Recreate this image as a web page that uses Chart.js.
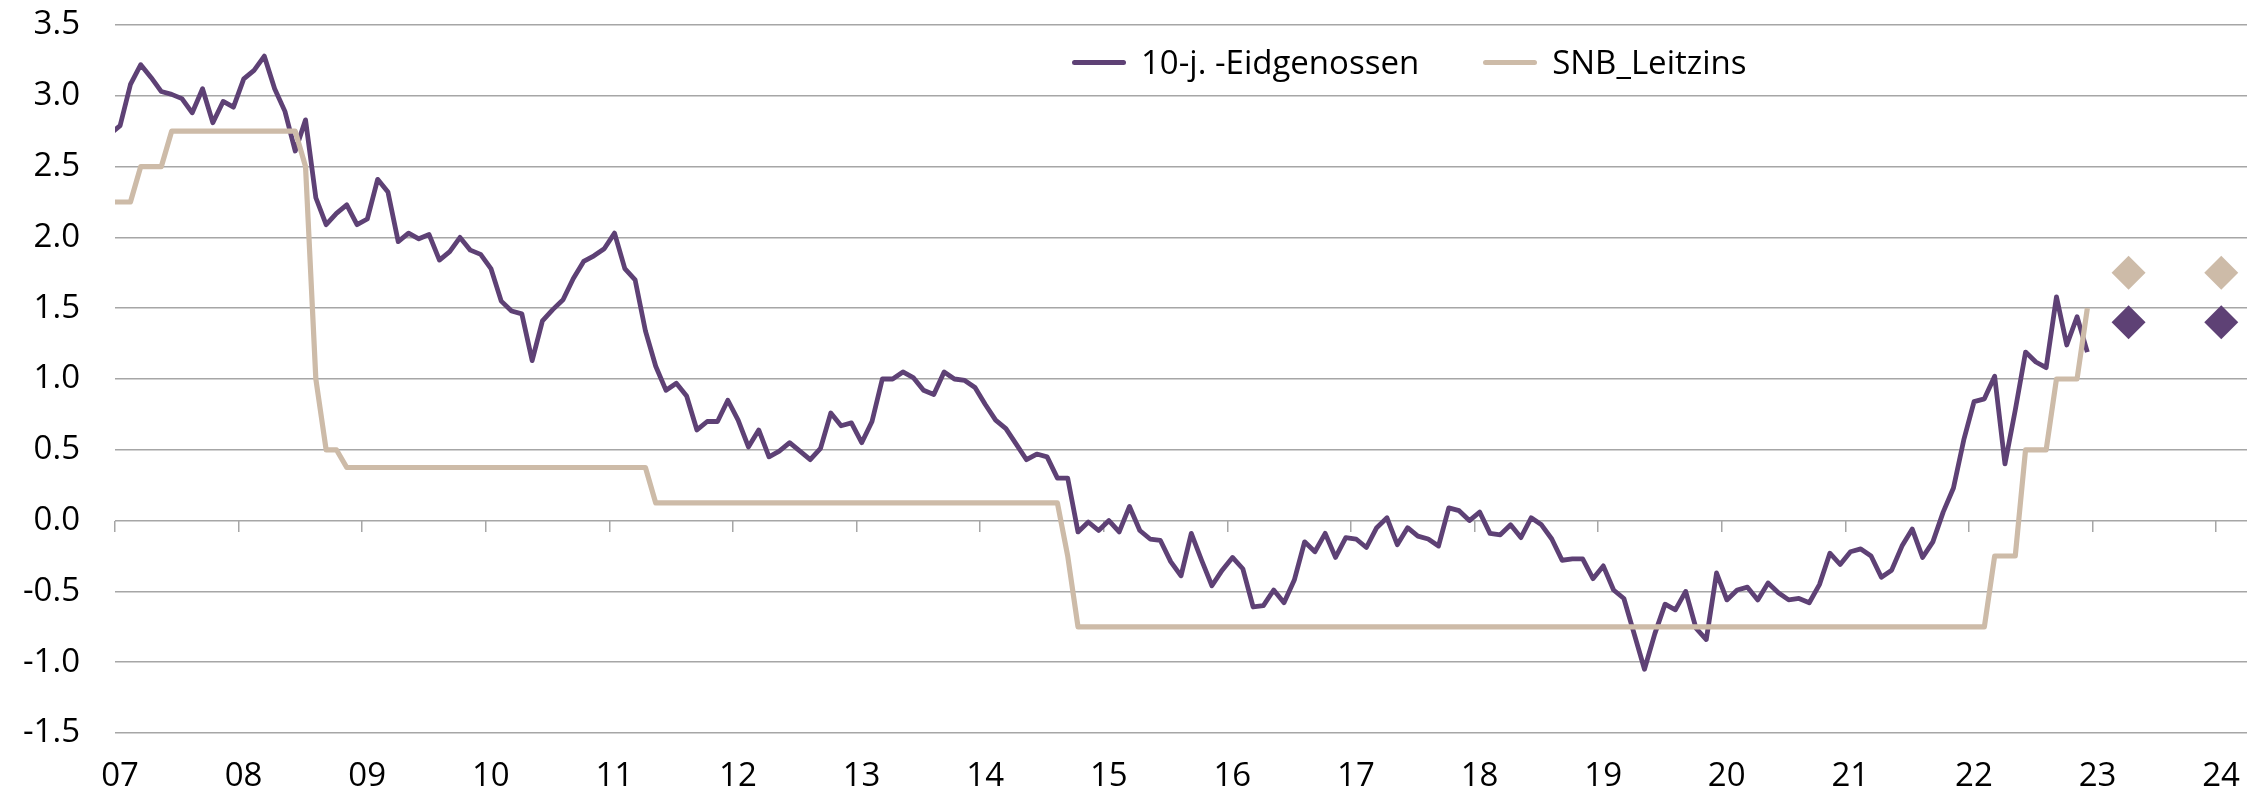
<!DOCTYPE html>
<html>
<head>
<meta charset="utf-8">
<script src="https://cdn.jsdelivr.net/npm/chart.js@4.4.1/dist/chart.umd.min.js"></script>
<style>
  body { margin: 0; background: #fff; }
  .wrap { position: relative; width: 2264px; height: 796px; }
  #legend { position: absolute; left: 1072px; top: 42px; height: 40px; display: flex; align-items: center;
            font-family: "Open Sans", sans-serif; font-size: 33px; color: #000; }
  #legend .item { display: flex; align-items: center; margin-right: 64px; line-height: 40px; white-space: nowrap; }
  #legend .swatch { width: 54px; height: 5px; border-radius: 3px; margin-right: 15px; }
</style>
</head>
<body>
<div class="wrap">
  <canvas id="chart" width="2264" height="796"></canvas>
  <div id="legend"></div>
</div>
<script>
// Monatswerte ab Dez. 2006 bis Dez. 2022
const firstMonth = "2006-12";
const yearLabels = ["07", "08", "09", "10", "11", "12", "13", "14", "15", "16", "17", "18", "19", "20", "21", "22", "23", "24"];

const yield10y = [
  2.73,
  2.79, 3.08, 3.22, 3.13, 3.03, 3.01, 2.98, 2.88, 3.05, 2.81, 2.96, 2.92,
  3.12, 3.18, 3.28, 3.05, 2.89, 2.61, 2.83, 2.28, 2.09, 2.17, 2.23, 2.09,
  2.13, 2.41, 2.32, 1.97, 2.03, 1.99, 2.02, 1.84, 1.90, 2.00, 1.91, 1.88,
  1.78, 1.55, 1.48, 1.46, 1.13, 1.41, 1.49, 1.56, 1.71, 1.83, 1.87, 1.92,
  2.03, 1.78, 1.70, 1.34, 1.09, 0.92, 0.97, 0.88, 0.64, 0.70, 0.70, 0.85,
  0.71, 0.52, 0.64, 0.45, 0.49, 0.55, 0.49, 0.43, 0.51, 0.76, 0.67, 0.69,
  0.55, 0.70, 1.00, 1.00, 1.05, 1.01, 0.92, 0.89, 1.05, 1.00, 0.99, 0.94,
  0.82, 0.71, 0.65, 0.54, 0.43, 0.47, 0.45, 0.30, 0.30, -0.08, -0.01, -0.07,
  0.00, -0.08, 0.10, -0.07, -0.13, -0.14, -0.29, -0.39, -0.09, -0.28, -0.46, -0.35,
  -0.26, -0.34, -0.61, -0.60, -0.49, -0.58, -0.42, -0.15, -0.22, -0.09, -0.26, -0.12,
  -0.13, -0.19, -0.05, 0.02, -0.17, -0.05, -0.11, -0.13, -0.18, 0.09, 0.07, 0.00,
  0.06, -0.09, -0.10, -0.03, -0.12, 0.02, -0.03, -0.13, -0.28, -0.27, -0.27, -0.41,
  -0.32, -0.49, -0.55, -0.80, -1.05, -0.80, -0.59, -0.63, -0.50, -0.76, -0.84, -0.37,
  -0.56, -0.49, -0.47, -0.56, -0.44, -0.51, -0.56, -0.55, -0.58, -0.45, -0.23, -0.31,
  -0.22, -0.20, -0.25, -0.40, -0.35, -0.18, -0.06, -0.26, -0.15, 0.06, 0.23, 0.57,
  0.84, 0.86, 1.02, 0.40, 0.78, 1.19, 1.12, 1.08, 1.58, 1.24, 1.44, 1.19
];

const snbRate = [
  2.25,
  2.25, 2.25, 2.5, 2.5, 2.5, 2.75, 2.75, 2.75, 2.75, 2.75, 2.75, 2.75,
  2.75, 2.75, 2.75, 2.75, 2.75, 2.75, 2.5, 1.0, 0.5, 0.5, 0.375, 0.375,
  0.375, 0.375, 0.375, 0.375, 0.375, 0.375, 0.375, 0.375, 0.375, 0.375, 0.375, 0.375,
  0.375, 0.375, 0.375, 0.375, 0.375, 0.375, 0.375, 0.375, 0.375, 0.375, 0.375, 0.375,
  0.375, 0.375, 0.375, 0.375, 0.125, 0.125, 0.125, 0.125, 0.125, 0.125, 0.125, 0.125,
  0.125, 0.125, 0.125, 0.125, 0.125, 0.125, 0.125, 0.125, 0.125, 0.125, 0.125, 0.125,
  0.125, 0.125, 0.125, 0.125, 0.125, 0.125, 0.125, 0.125, 0.125, 0.125, 0.125, 0.125,
  0.125, 0.125, 0.125, 0.125, 0.125, 0.125, 0.125, 0.125, -0.25, -0.75, -0.75, -0.75,
  -0.75, -0.75, -0.75, -0.75, -0.75, -0.75, -0.75, -0.75, -0.75, -0.75, -0.75, -0.75,
  -0.75, -0.75, -0.75, -0.75, -0.75, -0.75, -0.75, -0.75, -0.75, -0.75, -0.75, -0.75,
  -0.75, -0.75, -0.75, -0.75, -0.75, -0.75, -0.75, -0.75, -0.75, -0.75, -0.75, -0.75,
  -0.75, -0.75, -0.75, -0.75, -0.75, -0.75, -0.75, -0.75, -0.75, -0.75, -0.75, -0.75,
  -0.75, -0.75, -0.75, -0.75, -0.75, -0.75, -0.75, -0.75, -0.75, -0.75, -0.75, -0.75,
  -0.75, -0.75, -0.75, -0.75, -0.75, -0.75, -0.75, -0.75, -0.75, -0.75, -0.75, -0.75,
  -0.75, -0.75, -0.75, -0.75, -0.75, -0.75, -0.75, -0.75, -0.75, -0.75, -0.75, -0.75,
  -0.75, -0.75, -0.25, -0.25, -0.25, 0.5, 0.5, 0.5, 1.0, 1.0, 1.0, 1.5
];

// Prognosen (Rauten)
const forecastMonths = ["2023-04", "2024-01"];
const forecastYield = [1.4, 1.4];
const forecastSnb = [1.75, 1.75];

const purple = "#5e4175";
const beige = "#cdbba8";
const gridGray = "#a6a6a6";
const FONT = { family: "'Open Sans', sans-serif", size: 33 };

// Monat -> Position auf der x-Achse (Monate seit Jan 2007, Monatsmitte)
function monthPos(str) {
  const [y, m] = str.split("-").map(Number);
  return (y - 2007) * 12 + (m - 1) + 0.5;
}
const startPos = monthPos(firstMonth);
const yearTicks = yearLabels.map((_, i) => i * 12);

const toPoints = (arr) => arr.map((v, i) => ({ x: startPos + i, y: v }));
const toForecast = (arr) => arr.map((v, i) => ({ x: monthPos(forecastMonths[i]), y: v }));

const htmlLegend = {
  id: "htmlLegend",
  afterUpdate(chart) {
    const box = document.getElementById("legend");
    box.innerHTML = "";
    chart.data.datasets.forEach((ds) => {
      if (!ds.inLegend) return;
      const item = document.createElement("div");
      item.className = "item";
      const sw = document.createElement("span");
      sw.className = "swatch";
      sw.style.background = ds.borderColor;
      const txt = document.createElement("span");
      txt.textContent = ds.label;
      item.appendChild(sw);
      item.appendChild(txt);
      box.appendChild(item);
    });
  },
};

new Chart(document.getElementById("chart"), {
  type: "line",
  data: {
    datasets: [
      {
        label: "10-j. -Eidgenossen",
        inLegend: true,
        data: toPoints(yield10y),
        borderColor: purple,
        borderWidth: 4.8,
        pointRadius: 0,
        tension: 0,
        borderJoinStyle: "round",
        order: 2,
      },
      {
        label: "SNB_Leitzins",
        inLegend: true,
        data: toPoints(snbRate),
        borderColor: beige,
        borderWidth: 5.2,
        pointRadius: 0,
        tension: 0,
        borderJoinStyle: "round",
        order: 1,
      },
      {
        label: "Prognose 10-j.",
        data: toForecast(forecastYield),
        showLine: false,
        pointStyle: "rectRot",
        pointRadius: 17,
        pointBackgroundColor: purple,
        pointBorderWidth: 0,
        borderColor: purple,
        order: 0,
      },
      {
        label: "Prognose SNB",
        data: toForecast(forecastSnb),
        showLine: false,
        pointStyle: "rectRot",
        pointRadius: 17,
        pointBackgroundColor: beige,
        pointBorderWidth: 0,
        borderColor: beige,
        order: 0,
      },
    ],
  },
  options: {
    responsive: false,
    animation: false,
    layout: { padding: { left: 0, right: 15, top: 25, bottom: 0 } },
    plugins: { legend: { display: false }, tooltip: { enabled: false } },
    scales: {
      x: {
        type: "linear",
        min: 0,
        max: 207,
        afterBuildTicks: (scale) => { scale.ticks = yearTicks.map((v) => ({ value: v })); },
        afterFit: (scale) => { scale.height = 63; scale.paddingLeft = 0; scale.paddingRight = 0; },
        grid: { display: false },
        border: { display: false },
        ticks: {
          autoSkip: false,
          maxRotation: 0,
          padding: 16,
          labelOffset: 5,
          color: "#000",
          font: FONT,
          callback: (v, i) => yearLabels[i],
        },
      },
      xTicks: {
        type: "linear",
        axis: "x",
        position: { y: 0 },
        min: 0,
        max: 207,
        afterBuildTicks: (scale) => { scale.ticks = yearTicks.map((v) => ({ value: v })); },
        grid: { drawOnChartArea: false, drawTicks: true, tickLength: 11, color: gridGray, lineWidth: 1.5 },
        border: { display: false },
        ticks: { display: false },
      },
      y: {
        min: -1.5,
        max: 3.5,
        afterFit: (scale) => { scale.width = 115; scale.paddingTop = 0; scale.paddingBottom = 0; },
        grid: { color: gridGray, lineWidth: 1.5, drawTicks: false },
        border: { display: false },
        ticks: {
          stepSize: 0.5,
          padding: 35,
          color: "#000",
          font: FONT,
          callback: (v) => v.toFixed(1),
        },
      },
    },
  },
  plugins: [htmlLegend],
});
</script>
</body>
</html>
